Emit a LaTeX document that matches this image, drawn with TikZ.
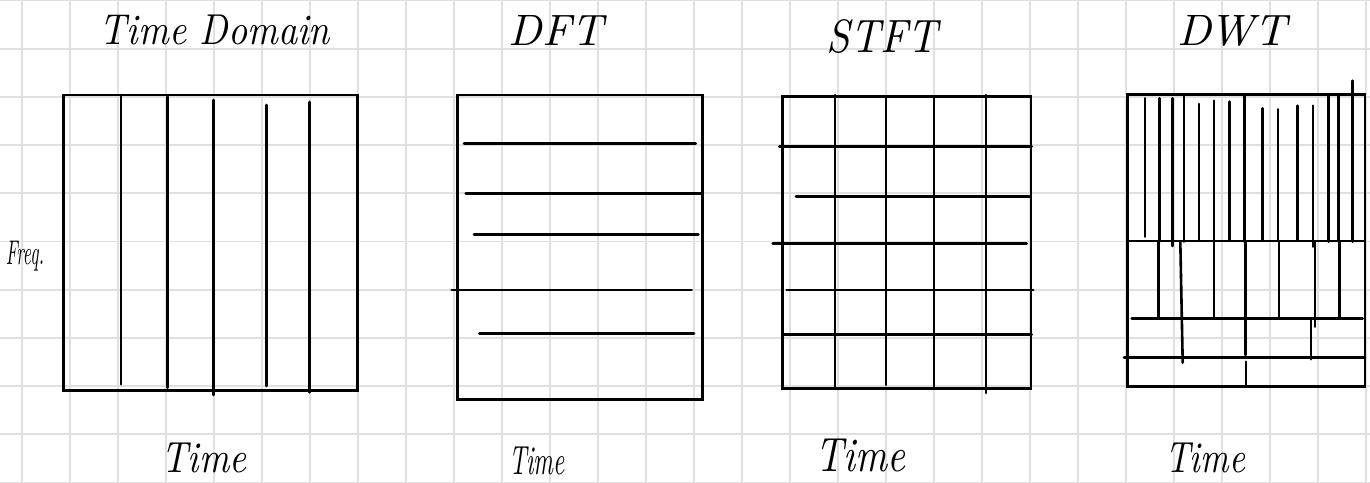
\documentclass[tikz,border=0pt]{standalone}
\usepackage{fontspec}
\usepackage{graphicx}
\definecolor{gridgray}{HTML}{E0E0E0}
\newcommand{\hwtext}[3]{\resizebox*{#1pt}{#2pt}{\itshape #3}}
\begin{document}
\begin{tikzpicture}[x=1pt,y=-1pt,
  gridline/.style={draw=gridgray, line width=1.8pt},
  ink/.style={draw=black, line width=2.6pt, line cap=round},
  hand/.style={inner sep=0pt, text=black}]
\useasboundingbox (0,0) rectangle (1370,482);
\fill[white] (0,0) rectangle (1370,482);
% paper grid
\foreach \k in {0,...,28} \draw[gridline] ({22.3+48*\k},0) -- ({22.3+48*\k},482);
\foreach \k in {0,...,10} \draw[gridline] (0,{0.5+48.2*\k}) -- (1370,{0.5+48.2*\k});

% ---- Time domain ----
\draw[ink] (63.3,95) rectangle (357.5,390.7);
\draw[ink] (121,95) -- (121,384.3);
\draw[ink] (167.3,96.7) -- (167.3,387.7);
\draw[ink] (213.3,100) -- (213.3,395);
\draw[ink] (266.7,105) -- (266.7,386);
\draw[ink] (309.3,102) -- (309.3,392.3);

% ---- DFT ----
\draw[ink] (457.3,95) rectangle (702.7,399.3);
\draw[ink] (464,143.3) -- (695.7,143.3);
\draw[ink] (465.7,193.3) -- (701.7,193.3);
\draw[ink] (474,234.3) -- (698.3,234.3);
\draw[ink] (451.7,290) -- (691.7,290);
\draw[ink] (479.3,333.3) -- (694,333.3);

% ---- STFT ----
\draw[ink] (782.7,96.7) rectangle (1031,388.3);
\draw[ink] (835,95) -- (835,388);
\draw[ink] (886,96.7) -- (886,385);
\draw[ink] (934,98) -- (934,388);
\draw[ink] (986,95) -- (986,393);
\draw[ink] (779.3,146.7) -- (1031.7,146.7);
\draw[ink] (796,196.7) -- (1029.3,196.7);
\draw[ink] (772.7,243.3) -- (1026.7,243.3);
\draw[ink] (786.7,290) -- (1033.3,290);
\draw[ink] (782.7,334.3) -- (1031.7,334.3);

% ---- DWT ----
\draw[ink] (1127.3,94.3) rectangle (1365,386.7);
\foreach \xx/\ya/\yb in {1145/98.3/236.7, 1159.3/98.3/241.7, 1172.3/98.3/246,
  1184/95/241.7, 1199/104/240.7, 1214/100.7/240.7, 1229.3/101.7/240.7,
  1244.3/95/241.7, 1262.7/108.3/240, 1278/109.3/240.7, 1297.7/105.7/240.7,
  1313/105.7/246.7, 1328.3/95/241.7, 1338.3/95/241.7, 1352.7/80.7/241.7}
  \draw[ink] (\xx,\ya) -- (\xx,\yb);
\draw[ink] (1127.3,241) -- (1365,241);
\draw[ink] (1131.7,318.3) -- (1362.7,318.3);
\draw[ink] (1124,357.3) -- (1365,357.3);
\foreach \xx/\ya/\yb in {1158.3/241.7/316.7, 1214/241.7/316.7, 1245.3/241.7/355,
  1279/241.7/316.7, 1315/241.7/326.7, 1311/318.3/359.3, 1339.3/241.7/316.7,
  1246/361.7/386.7}
  \draw[ink] (\xx,\ya) -- (\xx,\yb);
\draw[ink] (1180.3,241.7) -- (1182.7,362.7);

% ---- labels ----
\node[hand] (t1) at (215,30) {\hwtext{230}{30}{Time Domain}};
\node[hand] (t2) at (556,30) {\hwtext{94}{30}{DFT}};
\node[hand] (t3) at (882,37) {\hwtext{111}{34}{STFT}};
\node[hand] (t4) at (1232,31) {\hwtext{110}{31}{DWT}};
\node[hand] (fq) at (25,256) {\hwtext{38}{30}{Freq.}};
\node[hand] (b1) at (204,458) {\hwtext{85}{30}{Time}};
\node[hand] (b2) at (537,461) {\hwtext{56}{28}{Time}};
\node[hand] (b3) at (860,456) {\hwtext{90}{33}{Time}};
\node[hand] (b4) at (1205,458) {\hwtext{80}{30}{Time}};
\end{tikzpicture}
\end{document}
